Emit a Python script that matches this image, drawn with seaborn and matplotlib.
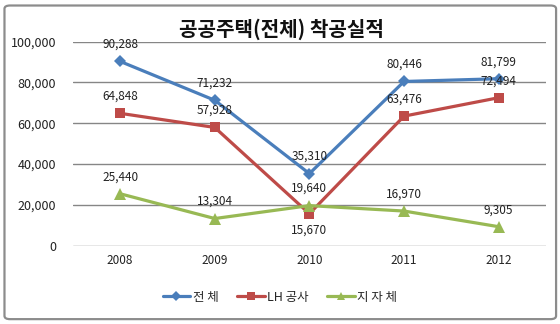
import matplotlib
matplotlib.use("Agg")
import matplotlib.pyplot as plt
import seaborn as sns
import pandas as pd
from matplotlib.patches import FancyBboxPatch
from matplotlib.lines import Line2D

years = ["2008", "2009", "2010", "2011", "2012"]
series_names = ["전 체", "LH 공사", "지 자 체"]
total = [90288, 71232, 35310, 80446, 81799]
lh = [64848, 57928, 15670, 63476, 72494]
local = [25440, 13304, 19640, 16970, 9305]
title = "공공주택(전체) 착공실적"
yticks = [0, 20000, 40000, 60000, 80000, 100000]

sns.set_theme(style="white")
plt.rcParams["font.family"] = ["Noto Sans CJK KR", "DejaVu Sans"]

df = pd.DataFrame({
    "year": years * 3,
    "value": total + lh + local,
    "series": sum([[s] * len(years) for s in series_names], []),
})

colors = {"전 체": "#4A7EBB", "LH 공사": "#BE4B48", "지 자 체": "#98B954"}
markers = {"전 체": "D", "LH 공사": "s", "지 자 체": "^"}
msizes = {"전 체": 6, "LH 공사": 7.5, "지 자 체": 8}

fig = plt.figure(figsize=(5.6, 3.24), dpi=100)
ax = fig.add_axes([0.130, 0.2417, 0.845, 0.630])

sns.lineplot(data=df, x="year", y="value", hue="series", style="series",
             palette=colors, markers=markers, dashes=False, linewidth=2.3,
             markeredgewidth=0, ax=ax, legend=False, sort=False)

for line, s in zip(ax.get_lines(), series_names):
    line.set_markersize(msizes[s])

ax.set_xlim(-0.5, 4.5)
ax.set_ylim(0, 100000)
ax.set_yticks(yticks)
ax.set_yticklabels([f"{v:,}" for v in yticks], fontsize=9, color="#222222")
ax.tick_params(axis="y", length=0, pad=12)
ax.tick_params(axis="x", length=0, pad=6, labelsize=8.5, labelcolor="#222222")
ax.grid(axis="y", color="#868686", linewidth=1.0)
ax.set_axisbelow(True)
for sp in ax.spines.values():
    sp.set_visible(False)
ax.set_xlabel("")
ax.set_ylabel("")

for s, vals in zip(series_names, [total, lh, local]):
    for i, v in enumerate(vals):
        below = (s == "LH 공사" and v == min(vals))
        off = -16 if below else 17
        ax.annotate(f"{v:,}", (i, v), xytext=(0, off), textcoords="offset pixels",
                    ha="center", va="center", fontsize=8.5, color="#222222")

fig.text(0.502, 0.91, title, ha="center", va="center", fontsize=14.5,
         fontweight="bold", color="#111111")

handles = [Line2D([0], [0], color=colors[s], marker=markers[s], lw=2.3,
                  markersize=msizes[s] * 0.8, markeredgewidth=0) for s in series_names]
fig.legend(handles, series_names, loc="center", bbox_to_anchor=(0.50, 0.083),
           ncol=3, frameon=False, fontsize=9, handlelength=2.2,
           handletextpad=0.2, columnspacing=1.5)

border = FancyBboxPatch((0.008, 0.015), 0.985, 0.968, boxstyle="round,pad=0,rounding_size=0.01",
                        transform=fig.transFigure, fill=False, edgecolor="#8C8C8C",
                        linewidth=1.6)
fig.patches.append(border)

fig.savefig("out.png", dpi=100)
